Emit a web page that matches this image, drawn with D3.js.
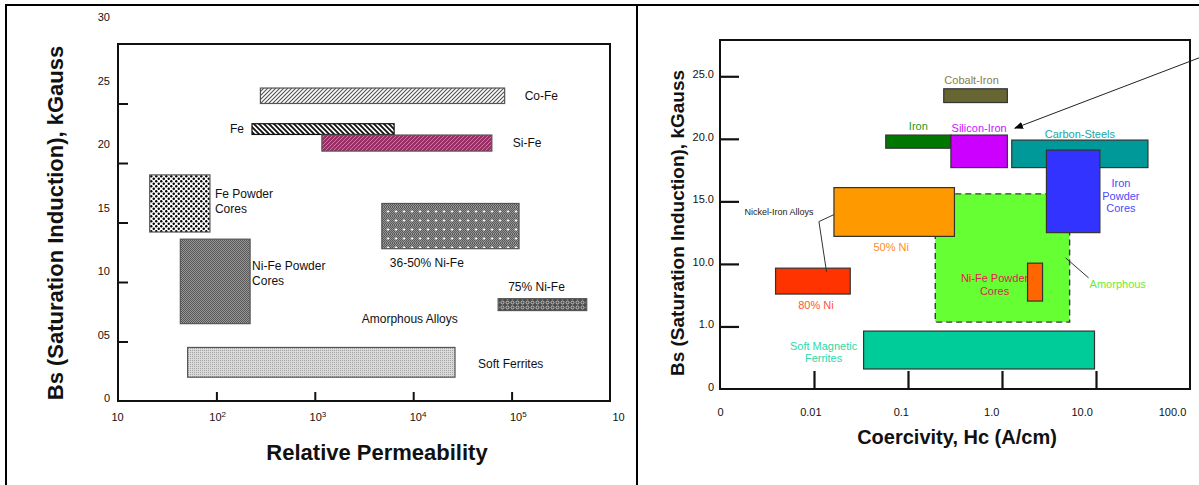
<!DOCTYPE html>
<html><head><meta charset="utf-8">
<script src="https://cdn.jsdelivr.net/npm/d3@7"></script>
<style>
body{margin:0;background:#fff}
svg{display:block}
text{font-family:"Liberation Sans",Arial,Helvetica,sans-serif}
</style>
</head><body>
<svg id="c" width="1199" height="485"></svg>
<script>
// ---------------- LEFT PANEL DATA (Relative permeability vs Bs) ----------------
const leftMaterials = ["Co-Fe","Fe","Si-Fe","Fe Powder Cores","Ni-Fe Powder Cores","36-50% Ni-Fe","75% Ni-Fe","Soft Ferrites"];
const leftLabels    = ["Co-Fe","Fe","Si-Fe","Fe Powder\nCores","Ni-Fe Powder\nCores","36-50% Ni-Fe","75% Ni-Fe","Soft Ferrites"];
const leftMuMin = [280, 230, 1180, 21, 43, 4800, 73000, 51];
const leftMuMax = [85000, 6400, 63000, 86, 220, 119000, 580000, 26600];
const leftBsMin = [25.0, 22.4, 21.0, 14.2, 6.5, 12.8, 7.6, 2.0];
const leftBsMax = [26.3, 23.3, 22.35, 19.0, 13.6, 16.6, 8.6, 4.5];
const leftYTicks = [5, 10, 15, 20, 25];
const leftYLabelValues = [0, 5, 10, 15, 20, 25, 30];
const leftYLabels = ["0","05","10","15","20","25","30"];
const leftXTicks = [100, 1000, 10000, 100000];
const leftXLabelValues = [10, 100, 1000, 10000, 100000, 1000000];
const leftXLabels = ["10","10^2","10^3","10^4","10^5","10"];
const leftNote = {text:"Amorphous Alloys", mu:3000, bs:6.9};

// ---------------- RIGHT PANEL DATA (Coercivity vs Bs) ----------------
const rightMaterials = ["Amorphous","Cobalt-Iron","Iron","Silicon-Iron","Carbon-Steels","Iron Powder Cores","50% Ni","80% Ni","Ni-Fe Powder Cores","Soft Magnetic Ferrites"];
const rightLabels    = ["Amorphous","Cobalt-Iron","Iron","Silicon-Iron","Carbon-Steels","Iron\nPowder\nCores","50% Ni","80% Ni","Ni-Fe Powder\nCores","Soft Magnetic\nFerrites"];
const rightHcMin = [0.195, 0.24, 0.058, 0.286, 1.27, 2.97, 0.0163, 0.0039, 1.87, 0.0337];
const rightHcMax = [5.24, 1.14, 0.286, 1.14, 35.7, 11.0, 0.312, 0.0243, 2.70, 9.64];
const rightBsMin = [5.35, 22.9, 19.25, 17.7, 17.7, 12.5, 12.2, 7.59, 7.03, 1.6];
const rightBsMax = [15.6, 24.0, 20.3, 20.3, 19.9, 19.1, 16.1, 9.66, 10.06, 4.63];
const rightYTicks = [5, 10, 15, 20, 25];
const rightYLabelValues = [0, 5, 10, 15, 20, 25];
const rightYLabels = ["0","1.0","10.0","15.0","20.0","25.0"];
const rightXTicks = [0.01, 0.1, 1, 10];
const rightXLabelValues = [0.001, 0.01, 0.1, 1, 10, 100];
const rightXLabels = ["0","0.01","0.1","1.0","10.0","100.0"];
const groupNote = "Nickel-Iron Alloys";
const arrowFrom = {hc:150, bs:26.7};
const arrowTo   = {hc:1.37, bs:20.85};

// ---------------- STYLES ----------------
const FONT = '"Liberation Sans",Arial,Helvetica,sans-serif';
const rightStyle = {
  "Amorphous":             {fill:"#66ff33", text:"#66ee33", dash:true},
  "Cobalt-Iron":           {fill:"#666633", text:"#8a7d4c"},
  "Iron":                  {fill:"#007700", text:"#1f961f"},
  "Silicon-Iron":          {fill:"#cc00ff", text:"#cc11ff"},
  "Carbon-Steels":         {fill:"#009999", text:"#20a6a6"},
  "Iron Powder Cores":     {fill:"#3333ff", text:"#4a4aff"},
  "50% Ni":                {fill:"#ff9900", text:"#ff8a1c"},
  "80% Ni":                {fill:"#ff3300", text:"#ff5533"},
  "Ni-Fe Powder Cores":    {fill:"#ff6600", text:"#e5204c"},
  "Soft Magnetic Ferrites":{fill:"#00cc99", text:"#30d8a6"}
};

const svg = d3.select("#c");
svg.append("rect").attr("width",1199).attr("height",485).attr("fill","#fff");

// ---------------- PATTERNS ----------------
const defs = svg.append("defs");
function pat(id, w, h, draw){
  const p = defs.append("pattern").attr("id",id).attr("patternUnits","userSpaceOnUse")
    .attr("width",w).attr("height",h);
  draw(p);
}
pat("pCoFe",4,4,p=>{
  p.append("rect").attr("width",4).attr("height",4).attr("fill","#fff");
  p.append("path").attr("d","M-1,1L1,-1M0,4L4,0M3,5L5,3").attr("stroke","#505050").attr("stroke-width",1.1);
});
pat("pFe",5,5,p=>{
  p.append("rect").attr("width",5).attr("height",5).attr("fill","#fff");
  p.append("path").attr("d","M-1,-1L6,6M-1,4L1,6M4,-1L6,1").attr("stroke","#111").attr("stroke-width",1.8);
});
pat("pSiFe",4,4,p=>{
  p.append("rect").attr("width",4).attr("height",4).attr("fill","#9a2f66");
  p.append("path").attr("d","M-1,1L1,-1M0,4L4,0M3,5L5,3").attr("stroke","#d48cb4").attr("stroke-width",0.8);
});
pat("pFePow",5,5,p=>{
  p.append("rect").attr("width",5).attr("height",5).attr("fill","#fff");
  p.append("circle").attr("cx",1.25).attr("cy",1.25).attr("r",1.2).attr("fill","#000");
  p.append("circle").attr("cx",3.75).attr("cy",3.75).attr("r",1.2).attr("fill","#000");
});
pat("pNiPow",2,2,p=>{
  p.append("rect").attr("width",2).attr("height",2).attr("fill","#969696");
  p.append("rect").attr("width",1).attr("height",1).attr("fill","#585858");
  p.append("rect").attr("x",1).attr("y",1).attr("width",1).attr("height",1).attr("fill","#585858");
});
pat("p3650",8,9,p=>{
  p.append("rect").attr("width",8).attr("height",9).attr("fill","url(#pNiPow)");
  p.append("path").attr("d","M4,3.2v2.6M2.7,4.5h2.6").attr("stroke","#fff").attr("stroke-width",0.9);
});
pat("p75",5,5,p=>{
  p.append("rect").attr("width",5).attr("height",5).attr("fill","#4c4c4c");
  p.append("circle").attr("cx",2.5).attr("cy",2.5).attr("r",1.5).attr("fill","none").attr("stroke","#d8d8d8").attr("stroke-width",0.8);
});
pat("pSoft",2,2,p=>{
  p.append("rect").attr("width",2).attr("height",2).attr("fill","#dadada");
  p.append("rect").attr("width",1).attr("height",1).attr("fill","#a4a4a4");
});
const leftFill = {"Co-Fe":"url(#pCoFe)","Fe":"url(#pFe)","Si-Fe":"url(#pSiFe)","Fe Powder Cores":"url(#pFePow)",
  "Ni-Fe Powder Cores":"url(#pNiPow)","36-50% Ni-Fe":"url(#p3650)","75% Ni-Fe":"url(#p75)","Soft Ferrites":"url(#pSoft)"};

defs.append("marker").attr("id","arrow").attr("viewBox","0 0 10 10").attr("refX",9).attr("refY",5)
  .attr("markerWidth",9).attr("markerHeight",9).attr("markerUnits","userSpaceOnUse").attr("orient","auto")
  .append("path").attr("d","M0,1L10,5L0,9Z").attr("fill","#000");

// ---------------- FRAME ----------------
const frame = svg.append("g").attr("stroke","#000").attr("stroke-width",2);
frame.append("line").attr("x1",5).attr("x2",1199).attr("y1",5).attr("y2",5);
frame.append("line").attr("x1",6).attr("x2",6).attr("y1",4).attr("y2",485);
frame.append("line").attr("x1",637).attr("x2",637).attr("y1",4).attr("y2",485);

function styleAxis(g, width){
  g.select(".domain").remove();
  g.selectAll(".tick line").attr("stroke","#111").attr("stroke-width",width);
  g.selectAll("text").attr("font-family",FONT).attr("fill","#111");
}

// ---------------- LEFT PANEL ----------------
const xL = d3.scaleLog().domain([10,1e6]).range([118,610]);
const yL = d3.scaleLinear().domain([0,30]).range([401,44]);
const xLlab = d3.scaleLog().domain([10,1e6]).range([117,618]);
const yLlab = d3.scaleLinear().domain([0,30]).range([398,17]);

const left = svg.append("g");
left.append("rect").attr("x",xL(10)).attr("y",yL(30)).attr("width",xL(1e6)-xL(10)).attr("height",yL(0)-yL(30))
  .attr("fill","none").attr("stroke","#111").attr("stroke-width",2);

const lyt = left.append("g").attr("transform",`translate(${xL(10)},0)`)
  .call(d3.axisLeft(yL).tickValues(leftYTicks).tickSize(-10).tickFormat(""));
styleAxis(lyt,2);
const lxt = left.append("g").attr("transform",`translate(0,${yL(0)})`)
  .call(d3.axisBottom(xL).tickValues(leftXTicks).tickSize(-9).tickFormat(""));
styleAxis(lxt,2);

const lyl = left.append("g").attr("transform","translate(110,0)")
  .call(d3.axisLeft(yLlab).tickValues(leftYLabelValues).tickSize(0).tickPadding(0)
    .tickFormat((d,i)=>leftYLabels[i]));
styleAxis(lyl,0);
lyl.selectAll("text").attr("font-size",11);

const lxl = left.append("g").attr("transform","translate(0,413)")
  .call(d3.axisBottom(xLlab).tickValues(leftXLabelValues).tickSize(0).tickPadding(0)
    .tickFormat((d,i)=>leftXLabels[i]));
styleAxis(lxl,0);
lxl.selectAll("text").attr("font-size",11).each(function(){
  const t = d3.select(this), s = t.text();
  if (s.includes("^")){
    const [b,e] = s.split("^");
    t.text(null);
    t.append("tspan").text(b);
    t.append("tspan").attr("font-size",8).attr("dy","-0.45em").text(e);
  }
});

const leftLayout = {
  "Co-Fe":              b=>({x:b.r+20, y:b.m, a:"start"}),
  "Fe":                 b=>({x:b.l-8,  y:b.m, a:"end"}),
  "Si-Fe":              b=>({x:b.r+21, y:b.m, a:"start"}),
  "Fe Powder Cores":    b=>({x:b.r+5,  y:b.t+19, a:"start"}),
  "Ni-Fe Powder Cores": b=>({x:b.r+2,  y:b.t+27, a:"start"}),
  "36-50% Ni-Fe":       b=>({x:b.l+8,  y:b.b+14, a:"start"}),
  "75% Ni-Fe":          b=>({x:b.l+10, y:b.t-12, a:"start"}),
  "Soft Ferrites":      b=>({x:b.r+23, y:b.m+1, a:"start"})
};

leftMaterials.forEach((name,i)=>{
  const b = {l:xL(leftMuMin[i]), r:xL(leftMuMax[i]), t:yL(leftBsMax[i]), b:yL(leftBsMin[i])};
  b.m = (b.t+b.b)/2;
  left.append("rect").attr("x",b.l).attr("y",b.t).attr("width",b.r-b.l).attr("height",b.b-b.t)
    .attr("fill",leftFill[name]).attr("stroke",name==="Fe"?"#111":"#555").attr("stroke-width",1.2);
  const p = leftLayout[name](b);
  const t = left.append("text").attr("x",p.x).attr("y",p.y).attr("text-anchor",p.a)
    .attr("font-size",12).attr("fill","#111").attr("font-family",FONT);
  leftLabels[i].split("\n").forEach((ln,k)=>{
    t.append("tspan").attr("x",p.x).attr("dy",k===0?"0.35em":"1.2em").text(ln);
  });
});
left.append("text").attr("x",xL(leftNote.mu)).attr("y",yL(leftNote.bs)).attr("dy","0.35em")
  .attr("font-size",12).attr("fill","#111").attr("font-family",FONT).text(leftNote.text);

left.append("text").attr("transform","translate(55,223) rotate(-90)").attr("text-anchor","middle")
  .attr("dy","0.36em").attr("font-size",22).attr("font-weight","bold").attr("font-family",FONT)
  .attr("fill","#111").text("Bs (Saturation Induction), kGauss");
left.append("text").attr("x",377).attr("y",460).attr("text-anchor","middle")
  .attr("font-size",22).attr("font-weight","bold").attr("font-family",FONT)
  .attr("fill","#111").text("Relative Permeability");

// ---------------- RIGHT PANEL ----------------
const xR = d3.scaleLog().domain([0.001,100]).range([720,1190]);
const yR = d3.scaleLinear().domain([0,27.9]).range([389,40]);
const xRlab = d3.scaleLog().domain([0.001,100]).range([720,1172]);

const right = svg.append("g");

const rIdx = n => rightMaterials.indexOf(n);
function rb(name){
  const i = rIdx(name);
  const b = {l:xR(rightHcMin[i]), r:xR(rightHcMax[i]), t:yR(rightBsMax[i]), b:yR(rightBsMin[i])};
  b.m = (b.t+b.b)/2; b.c = (b.l+b.r)/2; return b;
}
function rrect(name){
  const b = rb(name), st = rightStyle[name];
  right.append("rect").attr("x",b.l).attr("y",b.t).attr("width",b.r-b.l).attr("height",b.b-b.t)
    .attr("fill",st.fill).attr("stroke",st.dash?"#3a3a3a":"#333").attr("stroke-width",st.dash?1.4:1.2)
    .attr("stroke-dasharray",st.dash?"6,4":null);
}
function rtext(name, x, y, anchor, lh){
  const t = right.append("text").attr("x",x).attr("y",y).attr("text-anchor",anchor)
    .attr("font-size",11).attr("fill",rightStyle[name].text).attr("font-family",FONT);
  rightLabels[rIdx(name)].split("\n").forEach((ln,k)=>{
    t.append("tspan").attr("x",x).attr("dy",k===0?"0.35em":lh+"px").text(ln);
  });
}

// amorphous region first (background)
rrect("Amorphous");
{ const b = rb("Amorphous");
  right.append("line").attr("x1",b.r-4).attr("y1",b.t+64).attr("x2",b.r+19).attr("y2",b.t+84)
    .attr("stroke","#333").attr("stroke-width",1);
  rtext("Amorphous", b.r+20, b.t+90, "start", 13);
}
// Ni-Fe powder label sits under its small bar
{ const b = rb("Ni-Fe Powder Cores"); rtext("Ni-Fe Powder Cores", b.l-33, b.t+15, "middle", 13); }

["Cobalt-Iron","Iron","Silicon-Iron","Carbon-Steels","Iron Powder Cores","50% Ni","80% Ni","Ni-Fe Powder Cores","Soft Magnetic Ferrites"]
  .forEach(rrect);

{ let b = rb("Cobalt-Iron"); rtext("Cobalt-Iron", b.c-4, b.t-9, "middle", 13);
  b = rb("Iron"); rtext("Iron", b.c, b.t-9, "middle", 13);
  b = rb("Silicon-Iron"); rtext("Silicon-Iron", b.c, b.t-7, "middle", 13);
  b = rb("Carbon-Steels"); rtext("Carbon-Steels", b.c, b.t-6, "middle", 13);
  b = rb("Iron Powder Cores"); rtext("Iron Powder Cores", b.r+21, b.t+33, "middle", 12.7);
  b = rb("50% Ni"); rtext("50% Ni", b.c-3, b.b+11, "middle", 13);
  b = rb("80% Ni"); rtext("80% Ni", b.c+3, b.b+11, "middle", 13);
  b = rb("Soft Magnetic Ferrites"); rtext("Soft Magnetic Ferrites", b.l-40, b.t+15, "middle", 12.5);
}
// Nickel-Iron Alloys group note with leaders
{ const b5 = rb("50% Ni"), b8 = rb("80% Ni");
  const jx = b5.l-15, jy = b5.t+34;
  right.append("polyline").attr("points",`${b5.l},${b5.t+27} ${jx},${jy} ${b8.l+51},${b8.t+4}`)
    .attr("fill","none").attr("stroke","#333").attr("stroke-width",1);
  right.append("text").attr("x",jx-40).attr("y",jy-10).attr("dy","0.35em").attr("text-anchor","middle")
    .attr("font-size",9).attr("fill","#222").attr("font-family",FONT).text(groupNote);
}
// arrow
right.append("line").attr("x1",xR(arrowFrom.hc)).attr("y1",yR(arrowFrom.bs))
  .attr("x2",xR(arrowTo.hc)).attr("y2",yR(arrowTo.bs))
  .attr("stroke","#222").attr("stroke-width",1).attr("marker-end","url(#arrow)");

// box & axes
right.append("rect").attr("x",xR(0.001)).attr("y",yR(27.9)).attr("width",xR(100)-xR(0.001)).attr("height",yR(0)-yR(27.9))
  .attr("fill","none").attr("stroke","#111").attr("stroke-width",2);
const ryt = right.append("g").attr("transform",`translate(${xR(0.001)},0)`)
  .call(d3.axisLeft(yR).tickValues(rightYTicks).tickSize(-19).tickFormat(""));
styleAxis(ryt,2.2);
const rxt = right.append("g").attr("transform",`translate(0,${yR(0)})`)
  .call(d3.axisBottom(xR).tickValues(rightXTicks).tickSize(-18).tickFormat(""));
styleAxis(rxt,2.2);
const ryl = right.append("g").attr("transform","translate(714,-2)")
  .call(d3.axisLeft(yR).tickValues(rightYLabelValues).tickSize(0).tickPadding(0)
    .tickFormat((d,i)=>rightYLabels[i]));
styleAxis(ryl,0);
ryl.selectAll("text").attr("font-size",11);
const rxl = right.append("g").attr("transform","translate(0,408)")
  .call(d3.axisBottom(xRlab).tickValues(rightXLabelValues).tickSize(0).tickPadding(0)
    .tickFormat((d,i)=>rightXLabels[i]));
styleAxis(rxl,0);
rxl.selectAll("text").attr("font-size",11);

right.append("text").attr("transform","translate(677,223) rotate(-90)").attr("text-anchor","middle")
  .attr("dy","0.36em").attr("font-size",19).attr("font-weight","bold").attr("font-family",FONT)
  .attr("fill","#111").text("Bs (Saturation Induction), kGauss");
right.append("text").attr("x",957).attr("y",444).attr("text-anchor","middle")
  .attr("font-size",20).attr("font-weight","bold").attr("font-family",FONT)
  .attr("fill","#111").text("Coercivity, Hc (A/cm)");
</script>
</body></html>
